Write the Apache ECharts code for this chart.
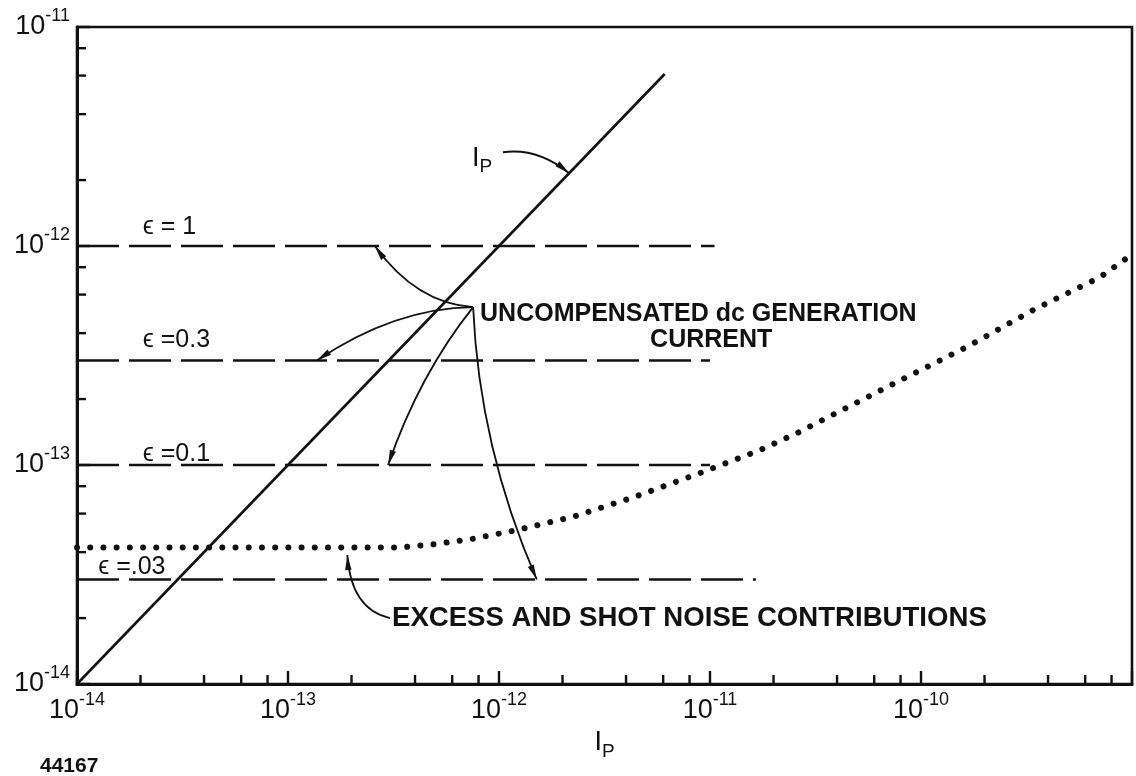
<!DOCTYPE html>
<html>
<head>
<meta charset="utf-8">
<script src="https://cdn.jsdelivr.net/npm/echarts@6/dist/echarts.min.js"></script>
<style>
  html, body { margin: 0; padding: 0; background: #fff; }
  #chart { width: 1136px; height: 776px; }
</style>
</head>
<body>
<div id="chart"></div>
<script>
// ---- data ----------------------------------------------------------------
// Signal current line I_P (y = x)
const ipX = [1e-14, 6.1e-12];
const ipY = [1e-14, 6.1e-12];

// Uncompensated dc generation current levels for each epsilon
const epsNames  = ['ϵ = 1', 'ϵ =0.3', 'ϵ =0.1', 'ϵ =.03'];
const epsLevels = [1e-12, 3e-13, 1e-13, 3e-14];
const epsStartX = 1e-14;
const epsEndX   = [1.05e-11, 1.0e-11, 1.0e-11, 1.65e-11];

// Excess and shot noise contributions
const noiseX = [1e-14, 1e-13, 3.4e-13, 5e-13, 7.5e-13, 1.22e-12, 2.24e-12, 4.3e-12,
                9e-12, 1.73e-11, 2.67e-11, 6.9e-11, 1.65e-10, 3.4e-10, 7.05e-10, 9.6e-10];
const noiseY = [4.2e-14, 4.2e-14, 4.2e-14, 4.35e-14, 4.6e-14, 5.05e-14, 5.8e-14, 7.1e-14,
                9.2e-14, 1.17e-13, 1.42e-13, 2.27e-13, 3.46e-13, 5.1e-13, 7.2e-13, 8.9e-13];

// Axis decades and the minor tick mantissas within each decade
const xDecades = [-14, -13, -12, -11, -10, -9];
const yDecades = [-14, -13, -12, -11];
const minorMantissas = [2, 4, 6, 8];

// ---- layout / styling ----------------------------------------------------
const INK = '#111';
const FONT = "'Liberation Sans', 'DejaVu Sans', Arial, sans-serif";

// Text notes placed in data coordinates (left / middle anchored)
const notes = [
  { x: 2.05e-14, y: 1.22e-12, text: epsNames[0], size: 25, weight: 'normal' },
  { x: 2.05e-14, y: 3.70e-13, text: epsNames[1], size: 25, weight: 'normal' },
  { x: 2.05e-14, y: 1.12e-13, text: epsNames[2], size: 25, weight: 'normal' },
  { x: 1.26e-14, y: 3.42e-14, text: epsNames[3], size: 25, weight: 'normal' },
  { x: 8.13e-13, y: 4.89e-13, text: 'UNCOMPENSATED dc GENERATION', size: 25, weight: 'bold' },
  { x: 5.2e-12,  y: 3.72e-13, text: 'CURRENT', size: 25, weight: 'bold' },
  { x: 3.11e-13, y: 2.0e-14,  text: 'EXCESS AND SHOT NOISE CONTRIBUTIONS', size: 27.6, weight: 'bold' },
  { x: 7.45e-13, y: 2.52e-12, text: '{a|I}{b|P}', size: 26, weight: 'normal', rich: true }
];

// Leader arrows: start, a point midway along the curve, and the arrow tip
const arrows = [
  [7.54e-13, 5.26e-13, 4.23e-13, 6.3e-13,  2.58e-13, 1e-12],
  [7.54e-13, 5.26e-13, 3.21e-13, 4.55e-13, 1.37e-13, 3e-13],
  [7.54e-13, 5.26e-13, 4.46e-13, 2.44e-13, 2.98e-13, 1e-13],
  [7.54e-13, 5.26e-13, 9.27e-13, 1.23e-13, 1.51e-12, 3e-14],
  [1.045e-12, 2.68e-12, 1.51e-12, 2.6e-12, 2.15e-12, 2.15e-12],
  [3.04e-13, 2.0e-14, 2.19e-13, 2.47e-14, 1.91e-13, 3.88e-14]
];

// ---- helpers -------------------------------------------------------------
const powLabelRich = {
  b: { fontFamily: FONT, fontSize: 27, color: INK, lineHeight: 40 },
  s: { fontFamily: FONT, fontSize: 18, color: INK, lineHeight: 20, verticalAlign: 'top' }
};
function powLabel(v) {
  const e = Math.round(Math.log10(v));
  return '{b|10}{s|' + e + '}';
}
const subRich = {
  a: { fontFamily: FONT, fontSize: 27, color: INK, lineHeight: 36 },
  b: { fontFamily: FONT, fontSize: 19, color: INK, lineHeight: 16, verticalAlign: 'bottom' }
};

const minorTicks = [];
xDecades.slice(0, -1).forEach(d => minorMantissas.forEach(m =>
  minorTicks.push([m * Math.pow(10, d), 1e-14, 0])));
yDecades.slice(0, -1).forEach(d => minorMantissas.forEach(m =>
  minorTicks.push([1e-14, m * Math.pow(10, d), 1])));

// ---- chart ---------------------------------------------------------------
const chart = echarts.init(document.getElementById('chart'));

const series = [];

series.push({
  type: 'line',
  data: ipX.map((x, i) => [x, ipY[i]]),
  symbol: 'none',
  lineStyle: { color: INK, width: 2.6 },
  z: 3
});

epsLevels.forEach((lvl, i) => {
  series.push({
    type: 'line',
    data: [[epsStartX, lvl], [epsEndX[i], lvl]],
    symbol: 'none',
    lineStyle: { color: INK, width: 2.4, type: [42, 10] },
    z: 2
  });
});

series.push({
  type: 'line',
  data: noiseX.map((x, i) => [x, noiseY[i]]),
  symbol: 'none',
  smooth: false,
  lineStyle: { color: INK, width: 6, type: [0.01, 13.2], cap: 'round', join: 'round' },
  z: 3
});

// minor ticks at 2, 4, 6, 8 of every decade
series.push({
  type: 'custom',
  coordinateSystem: 'cartesian2d',
  data: minorTicks,
  encode: { x: 0, y: 1 },
  clip: false,
  silent: true,
  renderItem(params, api) {
    const p = api.coord([api.value(0), api.value(1)]);
    const horiz = api.value(2) === 1;
    return {
      type: 'line',
      shape: horiz
        ? { x1: p[0], y1: p[1], x2: p[0] + 9, y2: p[1] }
        : { x1: p[0], y1: p[1], x2: p[0], y2: p[1] - 9 },
      style: { stroke: INK, lineWidth: 2.4 }
    };
  },
  z: 4
});

// leader arrows
series.push({
  type: 'custom',
  coordinateSystem: 'cartesian2d',
  data: arrows,
  encode: { x: [0, 2, 4], y: [1, 3, 5] },
  clip: false,
  silent: true,
  renderItem(params, api) {
    const s = api.coord([api.value(0), api.value(1)]);
    const m = api.coord([api.value(2), api.value(3)]);
    const e = api.coord([api.value(4), api.value(5)]);
    const c = [2 * m[0] - (s[0] + e[0]) / 2, 2 * m[1] - (s[1] + e[1]) / 2];
    let dx = e[0] - c[0], dy = e[1] - c[1];
    const L = Math.hypot(dx, dy) || 1;
    dx /= L; dy /= L;
    const len = 15, half = 3.2;
    const b = [e[0] - dx * len, e[1] - dy * len];
    return {
      type: 'group',
      children: [
        {
          type: 'bezierCurve',
          shape: { x1: s[0], y1: s[1], cpx1: c[0], cpy1: c[1], x2: e[0], y2: e[1] },
          style: { stroke: INK, fill: 'none', lineWidth: 1.8 }
        },
        {
          type: 'polygon',
          shape: { points: [[e[0], e[1]], [b[0] - dy * half, b[1] + dx * half], [b[0] + dy * half, b[1] - dx * half]] },
          style: { fill: INK }
        }
      ]
    };
  },
  z: 5
});

// text notes
series.push({
  type: 'custom',
  coordinateSystem: 'cartesian2d',
  data: notes.map(n => [n.x, n.y]),
  encode: { x: 0, y: 1 },
  clip: false,
  silent: true,
  renderItem(params, api) {
    const n = notes[params.dataIndex];
    const p = api.coord([api.value(0), api.value(1)]);
    const style = {
      text: n.text,
      fill: INK,
      align: 'left',
      verticalAlign: 'middle',
      font: n.weight + ' ' + n.size + 'px ' + FONT
    };
    if (n.rich) style.rich = subRich;
    return { type: 'text', x: p[0], y: p[1], style };
  },
  z: 6
});

chart.setOption({
  animation: false,
  backgroundColor: '#fff',
  grid: {
    left: 77, right: 4, top: 27, bottom: 92,
    show: true, borderColor: INK, borderWidth: 2.6
  },
  xAxis: {
    type: 'log',
    logBase: 10,
    min: 1e-14,
    max: 1e-9,
    axisLine: { show: true, onZero: false, lineStyle: { color: INK, width: 3 } },
    axisTick: { show: true, inside: true, length: 13, lineStyle: { color: INK, width: 2.4 } },
    splitLine: { show: false },
    axisLabel: {
      margin: 7,
      showMaxLabel: false,
      formatter: v => (Math.round(Math.log10(v)) === -9 ? '' : powLabel(v)),
      rich: powLabelRich
    },
    name: '{a|I}{b|P}',
    nameLocation: 'middle',
    nameGap: 36,
    nameTextStyle: { rich: subRich }
  },
  yAxis: {
    type: 'log',
    logBase: 10,
    min: 1e-14,
    max: 1e-11,
    axisLine: { show: true, onZero: false, lineStyle: { color: INK, width: 3 } },
    axisTick: { show: true, inside: true, length: 13, lineStyle: { color: INK, width: 2.4 } },
    splitLine: { show: false },
    axisLabel: {
      margin: 7,
      showMinLabel: true,
      showMaxLabel: true,
      formatter: v => powLabel(v),
      rich: powLabelRich
    }
  },
  graphic: [{
    type: 'text',
    left: 40,
    top: 756,
    style: { text: '44167', font: 'bold 21px ' + FONT, fill: INK }
  }],
  series
});
</script>
</body>
</html>
